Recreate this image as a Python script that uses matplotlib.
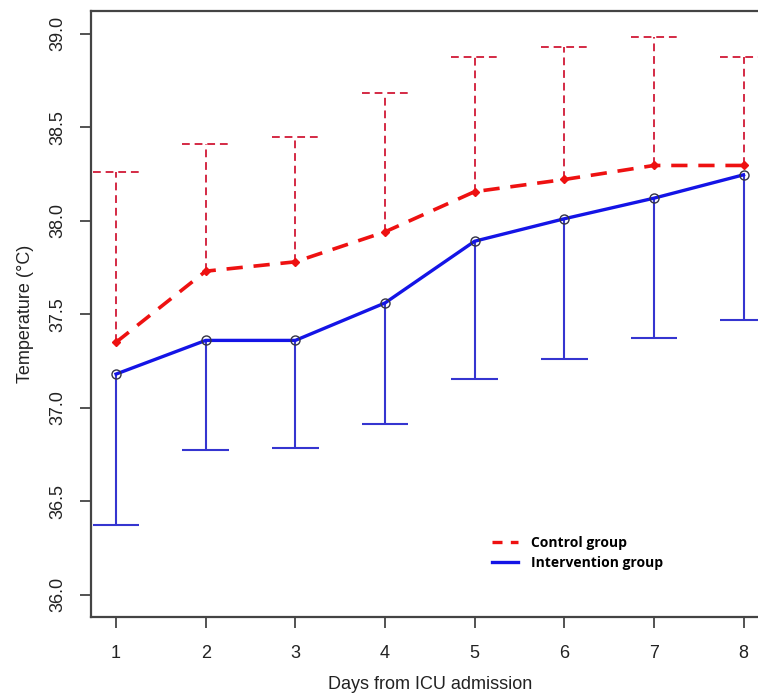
import numpy as np
import matplotlib
matplotlib.use("Agg")
import matplotlib.pyplot as plt
from matplotlib.lines import Line2D

plt.rcParams['font.family'] = ['Liberation Sans', 'DejaVu Sans']

days = [1, 2, 3, 4, 5, 6, 7, 8]
control_mean = [37.35, 37.73, 37.78, 37.94, 38.155, 38.22, 38.295, 38.295]
control_upper = [38.26, 38.41, 38.445, 38.68, 38.875, 38.93, 38.98, 38.875]
interv_mean = [37.18, 37.36, 37.36, 37.56, 37.89, 38.01, 38.12, 38.245]
interv_lower = [36.375, 36.775, 36.785, 36.915, 37.155, 37.26, 37.375, 37.47]

x = np.array(days)
cap = 0.26

fig = plt.figure(figsize=(7.58, 6.94), dpi=100)
ax = fig.add_axes([0.120, 0.1105, 0.894, 0.8735])

# error bars
ax.vlines(x, control_mean, control_upper, colors='#d42a44', linewidth=1.4,
          linestyles=(0, (4, 2.5)), zorder=2)
ax.hlines(control_upper, x - cap, x + cap, colors='#d42a44', linewidth=1.4,
          linestyles=(0, (4, 2.5)), zorder=2)
ax.vlines(x, interv_lower, interv_mean, colors='#3535d0', linewidth=1.5, zorder=2)
ax.hlines(interv_lower, x - cap, x + cap, colors='#3535d0', linewidth=1.5, zorder=2)

# means
ax.plot(x, control_mean, color='#ee1111', linewidth=2.6, dashes=(4.5, 3),
        marker='D', markersize=4.5, markerfacecolor='#ee1111',
        markeredgecolor='#ee1111', zorder=3)
ax.plot(x, interv_mean, color='#1414e6', linewidth=2.4, zorder=3)
ax.plot(x, interv_mean, linestyle='none', marker='o', markersize=6.5,
        markerfacecolor='none', markeredgecolor='#333344', markeredgewidth=1.0,
        zorder=4)

ax.set_xlim(0.72, 8.28)
ax.set_ylim(35.88, 39.12)
ax.set_xticks(days)
ax.set_yticks([36.0, 36.5, 37.0, 37.5, 38.0, 38.5, 39.0])
ax.set_yticklabels(['36.0', '36.5', '37.0', '37.5', '38.0', '38.5', '39.0'],
                   rotation=90, va='center')
ax.tick_params(axis='both', direction='out', length=8, width=1.3,
               color='#444444', labelsize=13, labelcolor='#222222')
ax.tick_params(axis='y', pad=10)
ax.tick_params(axis='x', pad=12)
for s in ax.spines.values():
    s.set_color('#444444')
    s.set_linewidth(1.6)

ax.set_xlabel('Days from ICU admission', fontsize=13, color='#222222', labelpad=10)
ax.set_ylabel('Temperature (\u00b0C)', fontsize=13, color='#222222', labelpad=11)

handles = [Line2D([], [], color='#ee1111', linewidth=2.4, dashes=(3, 2.5)),
           Line2D([], [], color='#1414e6', linewidth=2.4)]
leg = ax.legend(handles, ['Control group', 'Intervention group'],
                loc='upper left', bbox_to_anchor=(0.573, 0.155), frameon=False,
                handlelength=1.9, handletextpad=0.9, labelspacing=0.45,
                prop={'family': 'Open Sans', 'weight': 'bold', 'size': 10})

fig.savefig('out.png', dpi=100)
